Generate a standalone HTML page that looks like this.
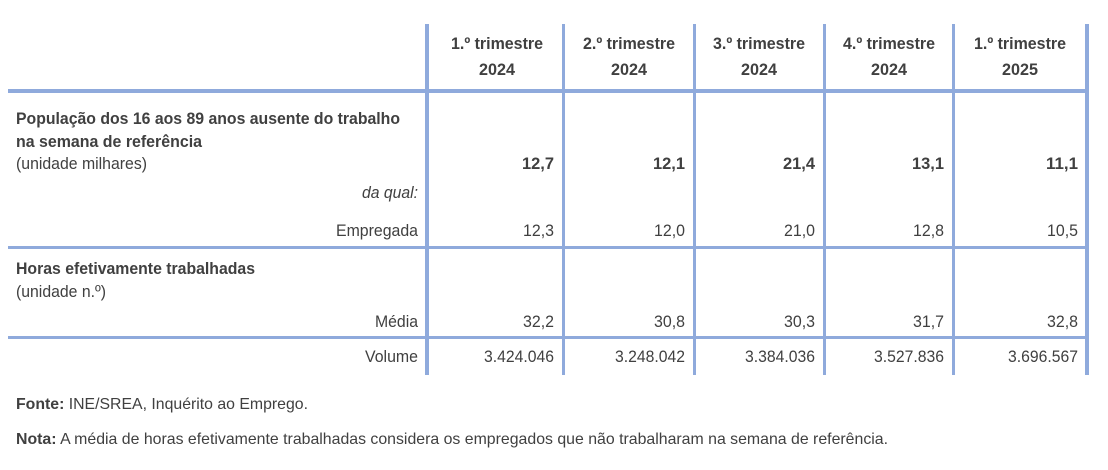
<!DOCTYPE html>
<html><head><meta charset="utf-8"><style>
html,body{margin:0;padding:0;background:#fff;}
svg text{font-family:"Liberation Sans",Arial,sans-serif;fill:#404040;font-size:17px;}
.b{font-weight:bold;}
</style></head><body>
<svg width="1108" height="465" viewBox="0 0 1108 465" xmlns="http://www.w3.org/2000/svg">
<g fill="#8faadc">
<rect x="8" y="89" width="1081" height="4"/>
<rect x="8" y="246" width="1081" height="3"/>
<rect x="8" y="336" width="1081" height="3"/>
<rect x="425" y="24" width="4" height="351"/>
<rect x="562" y="24" width="3" height="351"/>
<rect x="693" y="24" width="3" height="351"/>
<rect x="823" y="24" width="3" height="351"/>
<rect x="952" y="24" width="3" height="351"/>
<rect x="1085" y="24" width="4" height="351"/>
</g>
<g text-anchor="middle">
<text class="b" x="497" y="49" textLength="92" lengthAdjust="spacingAndGlyphs">1.º trimestre</text>
<text class="b" x="497" y="75" textLength="36" lengthAdjust="spacingAndGlyphs">2024</text>
<text class="b" x="629" y="49" textLength="92" lengthAdjust="spacingAndGlyphs">2.º trimestre</text>
<text class="b" x="629" y="75" textLength="36" lengthAdjust="spacingAndGlyphs">2024</text>
<text class="b" x="759" y="49" textLength="92" lengthAdjust="spacingAndGlyphs">3.º trimestre</text>
<text class="b" x="759" y="75" textLength="36" lengthAdjust="spacingAndGlyphs">2024</text>
<text class="b" x="889" y="49" textLength="92" lengthAdjust="spacingAndGlyphs">4.º trimestre</text>
<text class="b" x="889" y="75" textLength="36" lengthAdjust="spacingAndGlyphs">2024</text>
<text class="b" x="1020" y="49" textLength="92" lengthAdjust="spacingAndGlyphs">1.º trimestre</text>
<text class="b" x="1020" y="75" textLength="36" lengthAdjust="spacingAndGlyphs">2025</text>
</g>
<text class="b" x="16" y="124" textLength="384" lengthAdjust="spacingAndGlyphs">População dos 16 aos 89 anos ausente do trabalho</text>
<text class="b" x="16" y="147" textLength="186" lengthAdjust="spacingAndGlyphs">na semana de referência</text>
<text x="16" y="169" textLength="131" lengthAdjust="spacingAndGlyphs">(unidade milhares)</text>
<text x="418" y="198" text-anchor="end" font-style="italic" textLength="56" lengthAdjust="spacingAndGlyphs">da qual:</text>
<text x="418" y="236" text-anchor="end" textLength="82" lengthAdjust="spacingAndGlyphs">Empregada</text>
<text class="b" x="16" y="274" textLength="239" lengthAdjust="spacingAndGlyphs">Horas efetivamente trabalhadas</text>
<text x="16" y="297" textLength="90" lengthAdjust="spacingAndGlyphs">(unidade n.º)</text>
<text x="418" y="327" text-anchor="end" textLength="43" lengthAdjust="spacingAndGlyphs">Média</text>
<text x="418" y="362" text-anchor="end" textLength="53" lengthAdjust="spacingAndGlyphs">Volume</text>
<g text-anchor="end">
<text class="b" x="554" y="169" textLength="32" lengthAdjust="spacingAndGlyphs">12,7</text>
<text class="b" x="685" y="169" textLength="32" lengthAdjust="spacingAndGlyphs">12,1</text>
<text class="b" x="815" y="169" textLength="32" lengthAdjust="spacingAndGlyphs">21,4</text>
<text class="b" x="944" y="169" textLength="32" lengthAdjust="spacingAndGlyphs">13,1</text>
<text class="b" x="1078" y="169" textLength="32" lengthAdjust="spacingAndGlyphs">11,1</text>
<text x="554" y="236" textLength="31" lengthAdjust="spacingAndGlyphs">12,3</text>
<text x="685" y="236" textLength="31" lengthAdjust="spacingAndGlyphs">12,0</text>
<text x="815" y="236" textLength="31" lengthAdjust="spacingAndGlyphs">21,0</text>
<text x="944" y="236" textLength="31" lengthAdjust="spacingAndGlyphs">12,8</text>
<text x="1078" y="236" textLength="31" lengthAdjust="spacingAndGlyphs">10,5</text>
<text x="554" y="327" textLength="31" lengthAdjust="spacingAndGlyphs">32,2</text>
<text x="685" y="327" textLength="31" lengthAdjust="spacingAndGlyphs">30,8</text>
<text x="815" y="327" textLength="31" lengthAdjust="spacingAndGlyphs">30,3</text>
<text x="944" y="327" textLength="31" lengthAdjust="spacingAndGlyphs">31,7</text>
<text x="1078" y="327" textLength="31" lengthAdjust="spacingAndGlyphs">32,8</text>
<text x="554" y="362" textLength="70" lengthAdjust="spacingAndGlyphs">3.424.046</text>
<text x="685" y="362" textLength="70" lengthAdjust="spacingAndGlyphs">3.248.042</text>
<text x="815" y="362" textLength="70" lengthAdjust="spacingAndGlyphs">3.384.036</text>
<text x="944" y="362" textLength="70" lengthAdjust="spacingAndGlyphs">3.527.836</text>
<text x="1078" y="362" textLength="70" lengthAdjust="spacingAndGlyphs">3.696.567</text>
</g>
<text x="16" y="409" style="font-size:16px" textLength="292" lengthAdjust="spacingAndGlyphs"><tspan class="b">Fonte:</tspan> INE/SREA, Inquérito ao Emprego.</text>
<text x="16" y="444" style="font-size:16px" textLength="872" lengthAdjust="spacingAndGlyphs"><tspan class="b">Nota:</tspan> A média de horas efetivamente trabalhadas considera os empregados que não trabalharam na semana de referência.</text>
</svg>
</body></html>
